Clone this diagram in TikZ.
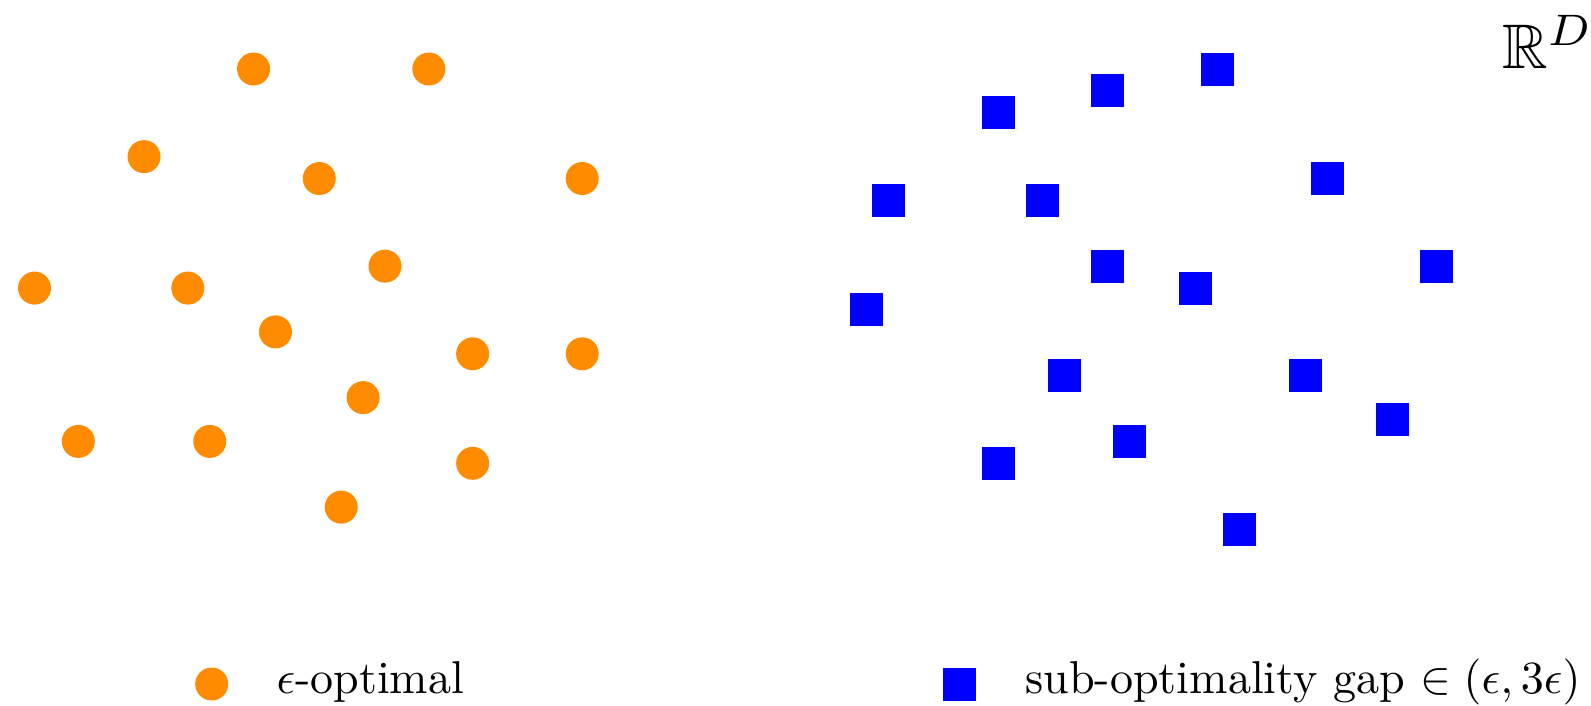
\documentclass[tikz,border=0pt]{standalone}
\usepackage{amssymb}
\definecolor{dotorange}{RGB}{255,140,0}
\definecolor{sqblue}{RGB}{0,0,255}
\newlength\legtwowd
\tikzset{
  optdot/.style={circle, fill=dotorange, draw=none, inner sep=0pt, minimum size=33pt},
  subsq/.style={rectangle, fill=sqblue, draw=none, inner sep=0pt, minimum size=33pt},
  lbl/.style={inner sep=0pt, outer sep=0pt, anchor=base west, scale=4.6},
  spacelbl/.style={inner sep=0pt, outer sep=0pt, anchor=base west, scale=6.3},
}
\newcommand{\legtwotext}{sub-optimality gap $\in (\epsilon, 3\epsilon)$}
\begin{document}
\settowidth{\legtwowd}{\legtwotext}
\begin{tikzpicture}
\pgfmathsetmacro{\legtwoscale}{555/\legtwowd}
\useasboundingbox (0pt,0pt) rectangle (1591pt,-705pt);
\begin{scope}[shift={(34.5pt,-69pt)}, x=21.907pt, y=-21.907pt]
  \foreach \px/\py [count=\i] in {10/0,18/0,5/4,13/5,25/5,0/10,7/10,16/9,11/12,20/13,25/13,15/15,2/17,8/17,20/18,14/20}
    \node[optdot] (c\i) at (\px,\py) {};
  \foreach \px/\py [count=\i] in {44/2,49/1,54/0,39/6,46/6,59/5,49/9,53/10,64/9,38/11,47/14,58/14,62/16,44/18,50/17,55/21}
    \node[subsq] (s\i) at (\px,\py) {};
\end{scope}
\node[optdot] (legc) at (211.7pt,-684pt) {};
\node[lbl] (legctext) at (276.7pt,-693pt) {$\epsilon$-optimal};
\node[subsq] (legs) at (959pt,-684.7pt) {};
\node[lbl, scale=\legtwoscale/4.6] (legstext) at (1025.5pt,-693pt) {\legtwotext};
\node[spacelbl] (space) at (1502pt,-68pt) {$\mathbb{R}^D$};
\end{tikzpicture}
\end{document}
